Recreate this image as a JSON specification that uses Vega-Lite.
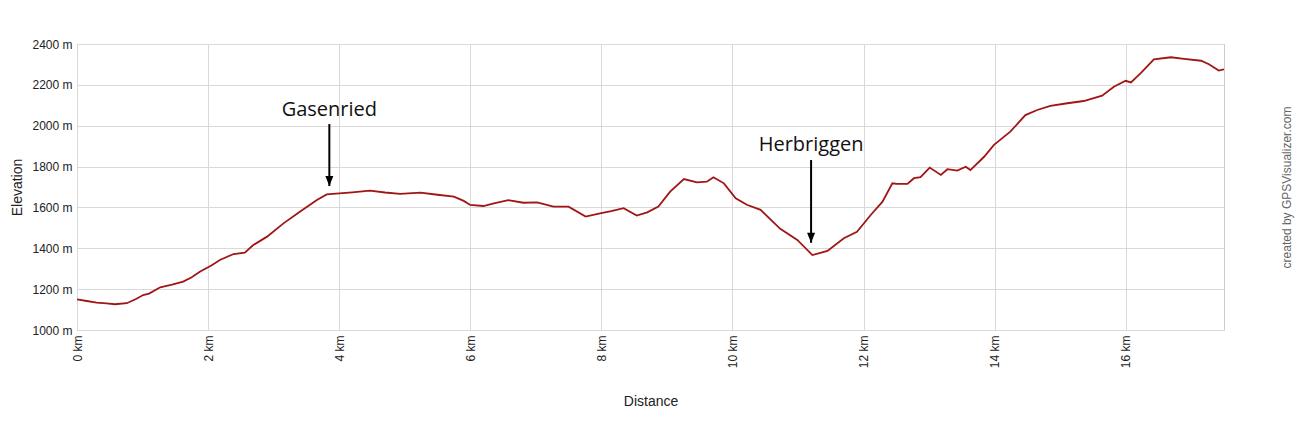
{
  "$schema": "https://vega.github.io/schema/vega-lite/v6.json",
  "width": 1147,
  "height": 286,
  "autosize": {"type": "none"},
  "padding": {"left": 77, "top": 44, "right": 76, "bottom": 104},
  "background": "white",
  "config": {
    "view": {"stroke": "#cccccc", "strokeWidth": 1},
    "font": "Liberation Sans"
  },
  "datasets": {
    "track": [
      {"km": 0.0, "ele": 1150}, {"km": 0.15, "ele": 1142}, {"km": 0.3, "ele": 1134}, {"km": 0.45, "ele": 1130},
      {"km": 0.58, "ele": 1126}, {"km": 0.76, "ele": 1131}, {"km": 0.9, "ele": 1152}, {"km": 1.01, "ele": 1171},
      {"km": 1.1, "ele": 1178}, {"km": 1.27, "ele": 1209}, {"km": 1.45, "ele": 1222}, {"km": 1.62, "ele": 1237},
      {"km": 1.75, "ele": 1258}, {"km": 1.88, "ele": 1286}, {"km": 2.05, "ele": 1316}, {"km": 2.18, "ele": 1343},
      {"km": 2.39, "ele": 1372}, {"km": 2.56, "ele": 1379}, {"km": 2.69, "ele": 1416}, {"km": 2.9, "ele": 1457},
      {"km": 3.15, "ele": 1522}, {"km": 3.4, "ele": 1579}, {"km": 3.66, "ele": 1636}, {"km": 3.81, "ele": 1664},
      {"km": 4.0, "ele": 1669}, {"km": 4.2, "ele": 1674}, {"km": 4.47, "ele": 1682}, {"km": 4.7, "ele": 1673},
      {"km": 4.93, "ele": 1666}, {"km": 5.24, "ele": 1672}, {"km": 5.5, "ele": 1662}, {"km": 5.75, "ele": 1653},
      {"km": 5.9, "ele": 1632}, {"km": 6.0, "ele": 1612}, {"km": 6.2, "ele": 1607}, {"km": 6.36, "ele": 1620},
      {"km": 6.58, "ele": 1636}, {"km": 6.81, "ele": 1623}, {"km": 7.02, "ele": 1625}, {"km": 7.27, "ele": 1604},
      {"km": 7.5, "ele": 1604}, {"km": 7.76, "ele": 1555}, {"km": 7.98, "ele": 1571}, {"km": 8.15, "ele": 1582},
      {"km": 8.34, "ele": 1596}, {"km": 8.54, "ele": 1560}, {"km": 8.7, "ele": 1576}, {"km": 8.87, "ele": 1604},
      {"km": 9.05, "ele": 1677}, {"km": 9.26, "ele": 1739}, {"km": 9.46, "ele": 1723}, {"km": 9.61, "ele": 1726},
      {"km": 9.71, "ele": 1748}, {"km": 9.87, "ele": 1718}, {"km": 10.05, "ele": 1645}, {"km": 10.22, "ele": 1613},
      {"km": 10.43, "ele": 1588}, {"km": 10.73, "ele": 1495}, {"km": 10.99, "ele": 1441}, {"km": 11.22, "ele": 1367},
      {"km": 11.45, "ele": 1387}, {"km": 11.7, "ele": 1449}, {"km": 11.9, "ele": 1481}, {"km": 12.11, "ele": 1563},
      {"km": 12.29, "ele": 1628}, {"km": 12.44, "ele": 1718}, {"km": 12.51, "ele": 1715}, {"km": 12.67, "ele": 1715},
      {"km": 12.77, "ele": 1743}, {"km": 12.87, "ele": 1748}, {"km": 13.01, "ele": 1795}, {"km": 13.18, "ele": 1759},
      {"km": 13.28, "ele": 1787}, {"km": 13.43, "ele": 1780}, {"km": 13.56, "ele": 1799}, {"km": 13.63, "ele": 1783},
      {"km": 13.84, "ele": 1848}, {"km": 13.99, "ele": 1906}, {"km": 14.24, "ele": 1971}, {"km": 14.47, "ele": 2052},
      {"km": 14.65, "ele": 2077}, {"km": 14.85, "ele": 2097}, {"km": 15.11, "ele": 2110}, {"km": 15.36, "ele": 2121},
      {"km": 15.64, "ele": 2147}, {"km": 15.82, "ele": 2191}, {"km": 16.0, "ele": 2220}, {"km": 16.08, "ele": 2212},
      {"km": 16.23, "ele": 2257}, {"km": 16.43, "ele": 2325}, {"km": 16.69, "ele": 2335}, {"km": 16.89, "ele": 2327},
      {"km": 17.15, "ele": 2318}, {"km": 17.27, "ele": 2301}, {"km": 17.42, "ele": 2270}, {"km": 17.5, "ele": 2276}
    ],
    "notes": [
      {"label": "Gasenried", "km": 3.85, "textEle": 2077, "top": 2008, "tip": 1705},
      {"label": "Herbriggen", "km": 11.2, "textEle": 1906, "top": 1832, "tip": 1427}
    ]
  },
  "resolve": {"axis": {"y": "independent"}},
  "layer": [
    {
      "data": {"name": "track"},
      "mark": {"type": "line", "color": "#a01515", "strokeWidth": 1.8, "clip": true},
      "encoding": {
        "x": {
          "field": "km", "type": "quantitative",
          "scale": {"domain": [0, 17.5], "nice": false, "zero": false},
          "axis": {
            "values": [0, 2, 4, 6, 8, 10, 12, 14, 16],
            "labelExpr": "datum.value + ' km'",
            "labelAngle": -90, "labelAlign": "right", "labelBaseline": "middle",
            "labelFontSize": 12, "labelColor": "#222", "labelPadding": 5,
            "ticks": false, "domain": false,
            "grid": true, "gridColor": "#d9d9d9",
            "title": "Distance", "titleFontSize": 14, "titleFontWeight": "normal",
            "titleColor": "#222", "titlePadding": 27
          }
        },
        "y": {
          "field": "ele", "type": "quantitative",
          "scale": {"domain": [1000, 2400], "nice": false, "zero": false},
          "axis": {
            "values": [1000, 1200, 1400, 1600, 1800, 2000, 2200, 2400],
            "labelExpr": "datum.value + ' m'",
            "labelFontSize": 12, "labelColor": "#222", "labelPadding": 5,
            "ticks": false, "domain": false,
            "grid": true, "gridColor": "#d9d9d9",
            "title": "Elevation", "titleFontSize": 14, "titleFontWeight": "normal",
            "titleColor": "#222", "titlePadding": 7
          }
        }
      }
    },
    {
      "data": {"name": "notes"},
      "mark": {"type": "rule", "color": "black", "strokeWidth": 2},
      "encoding": {
        "x": {"field": "km", "type": "quantitative"},
        "y": {"field": "top", "type": "quantitative",
          "axis": {"orient": "right", "labels": false, "ticks": false, "domain": false, "grid": false,
            "title": "created by GPSVisualizer.com", "titleAngle": -90, "titleFontSize": 12,
            "titleFontWeight": "normal", "titleColor": "#666", "titlePadding": 69}},
        "y2": {"field": "tip"}
      }
    },
    {
      "data": {"name": "notes"},
      "mark": {"type": "point", "shape": "M-0.8,-2L0.8,-2L0,0Z", "filled": true, "size": 100, "color": "black", "opacity": 1},
      "encoding": {
        "x": {"field": "km", "type": "quantitative"},
        "y": {"field": "tip", "type": "quantitative", "axis": null}
      }
    },
    {
      "data": {"name": "notes"},
      "mark": {"type": "text", "font": "Open Sans", "fontSize": 20, "color": "#111", "align": "center", "baseline": "middle"},
      "encoding": {
        "x": {"field": "km", "type": "quantitative"},
        "y": {"field": "textEle", "type": "quantitative", "axis": null},
        "text": {"field": "label"}
      }
    }
  ]
}
